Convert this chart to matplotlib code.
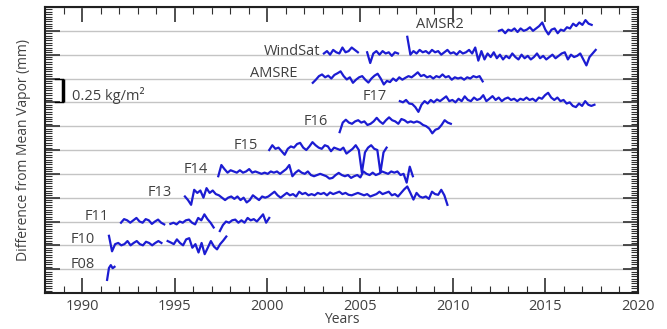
import numpy as np
import matplotlib.pyplot as plt
from matplotlib.ticker import MultipleLocator

plt.rcParams['font.family'] = ['Open Sans', 'DejaVu Sans']

# Satélites, del de arriba al de abajo (cada uno desplazado una unidad)
names = ['AMSR2', 'WindSat', 'AMSRE', 'F17', 'F16', 'F15', 'F14', 'F13', 'F11', 'F10', 'F08']
starts = [2012.5, 2003.05, 2002.45, 2007.15, 2003.9, 2000.1, 1997.35, 1995.55, 1992.1, 1991.45, 1991.35]
steps = [1/6, 1/6, 1/6, 1/6, 1/6, 1/6, 1/6, 1/6, 1/6, 1/6, 0.1]
nan = np.nan

# anomalias (1 unidad = 0.25 kg/m2)
amsr2 = [0.0, 0.05, -0.1, 0.05, 0.0, 0.1, -0.05, 0.1, 0.0, 0.05, 0.15, 0.0, 0.1, 0.2, 0.35, 0.05,
         -0.15, 0.05, 0.1, -0.1, 0.05, 0.0, 0.15, 0.1, 0.3, 0.2, 0.35, 0.25, 0.45, 0.3, 0.25]
windsat = [0.05, 0.15, 0.0, 0.2, 0.1, 0.05, 0.3, 0.1, 0.15, 0.3, 0.2, 0.1, nan, nan,
           0.1, -0.35, 0.05, 0.15, 0.0, 0.15, 0.05, 0.1, -0.05, 0.1, 0.05, nan, nan,
           0.75, 0.0, 0.15, 0.05, 0.2, 0.1, 0.15, 0.05, 0.2, 0.1, 0.15, 0.0, 0.1, 0.2, 0.05,
           0.1, 0.0, 0.15, 0.05, 0.1, 0.2, 0.05, 0.3, -0.25, 0.15, -0.2, 0.05, -0.1, 0.1,
           -0.15, 0.0, -0.2, -0.05, -0.15, 0.05, -0.1, -0.2, 0.0, -0.15, -0.05, -0.2, -0.1,
           0.05, -0.15, -0.05, -0.2, -0.1, 0.0, -0.15, -0.05, 0.05, 0.1, -0.2, 0.0, -0.1,
           -0.05, 0.05, -0.2, -0.45, -0.1, 0.05, 0.2]
amsre = [-0.18, -0.05, 0.1, 0.17, 0.05, 0.12, 0.0, 0.15, 0.22, 0.3, 0.1, -0.04, 0.05, -0.18,
         -0.05, 0.05, 0.1, -0.05, -0.17, 0.0, 0.12, 0.2, 0.0, -0.25, -0.1, -0.15, 0.0, -0.1,
         0.05, -0.05, 0.03, 0.1, 0.05, 0.15, 0.26, 0.1, 0.15, 0.05, 0.1, 0.0, 0.1, 0.05, 0.17,
         0.05, 0.1, -0.05, 0.05, 0.0, 0.04, -0.05, 0.05, 0.0, 0.1, 0.05, 0.1, -0.12]
f17 = [0.05, 0.0, 0.1, -0.05, -0.07, -0.2, -0.4, -0.1, 0.05, -0.05, 0.1, 0.0, 0.12, 0.05, 0.15,
       0.25, 0.05, 0.1, 0.0, 0.15, 0.05, 0.25, 0.1, 0.05, 0.2, 0.1, 0.15, 0.3, 0.05, 0.15, 0.26,
       0.1, 0.2, 0.05, 0.15, 0.2, 0.1, 0.15, 0.05, 0.15, 0.1, 0.2, 0.1, 0.15, 0.05, 0.2, 0.15,
       0.3, 0.4, 0.2, 0.1, 0.2, 0.05, 0.1, -0.05, 0.0, -0.15, -0.2, -0.05, -0.15, 0.05, -0.1,
       -0.15, -0.1]
f16 = [-0.25, 0.15, 0.27, 0.15, 0.1, 0.2, 0.25, 0.15, 0.2, 0.05, 0.1, 0.2, 0.35, 0.2, 0.1, 0.25,
       0.37, 0.25, 0.2, 0.1, 0.3, 0.25, 0.15, 0.2, 0.15, 0.2, 0.15, 0.05, 0.0, -0.1, -0.3, -0.15,
       -0.1, 0.05, 0.25, 0.15, 0.1]
f15 = [0.0, 0.2, 0.05, 0.1, -0.05, -0.2, 0.05, 0.15, 0.1, 0.25, 0.3, 0.1, 0.0, 0.15, 0.33, 0.2,
       0.1, 0.05, 0.2, 0.15, -0.05, 0.1, 0.05, 0.0, 0.1, -0.15, -0.05, 0.05, 0.2, 0.0, -0.95,
       -0.1, 0.1, 0.2, 0.05, 0.0, -0.95, -0.1, 0.1]
f14 = [-0.1, 0.37, 0.2, 0.05, 0.15, 0.1, 0.05, 0.15, 0.05, 0.1, 0.2, 0.05, 0.1, 0.05, 0.0, 0.05,
       0.0, 0.1, 0.05, 0.1, 0.0, 0.1, 0.2, 0.37, -0.1, 0.05, 0.15, 0.05, 0.0, 0.1, -0.05, -0.1,
       -0.05, 0.0, -0.05, -0.1, -0.2, -0.17, -0.05, 0.04, -0.05, -0.1, -0.05, -0.17, -0.1,
       -0.05, -0.15, 0.1, 0.0, -0.05, 0.05, -0.05, 0.0, 0.1, 0.05, 0.0, 0.1, 0.05, 0.1, -0.05,
       0.0, -0.37, 0.3, -0.1]
f13 = [0.05, -0.1, -0.3, 0.33, 0.2, 0.3, 0.0, 0.4, 0.2, 0.3, 0.15, 0.1, 0.0, -0.1, 0.0, 0.05,
       -0.05, 0.05, -0.1, 0.0, -0.2, -0.1, 0.1, 0.0, -0.1, 0.05, 0.0, 0.05, 0.15, 0.25, 0.1, 0.0,
       0.1, 0.2, 0.1, 0.15, 0.05, 0.25, 0.15, 0.2, 0.1, 0.15, 0.1, 0.2, 0.15, 0.2, 0.1, 0.22,
       0.15, 0.2, 0.25, 0.15, 0.2, 0.12, 0.1, 0.15, 0.2, 0.15, 0.1, 0.15, 0.05, 0.1, 0.15, 0.25,
       0.15, 0.2, 0.25, 0.1, 0.15, 0.05, 0.2, 0.35, 0.47, 0.2, -0.08, 0.2, 0.05, 0.0, 0.05,
       -0.05, 0.25, 0.15, 0.12, 0.33, 0.1, -0.3]
f11 = [-0.05, 0.1, 0.05, -0.05, 0.05, 0.15, 0.0, -0.05, 0.1, 0.05, -0.1, 0.0, 0.08, -0.05,
       -0.12, nan, -0.1, -0.05, -0.12, 0.0, -0.05, 0.05, 0.08, -0.05, -0.12, 0.15, 0.05, 0.3,
       0.1, -0.05, -0.25, nan, -0.4, -0.15, 0.0, -0.05, 0.05, 0.08, -0.05, 0.05, -0.05, 0.15,
       0.05, 0.1, 0.0, 0.15, 0.3, -0.05, 0.15]
f10 = [0.4, -0.25, 0.05, 0.1, 0.0, 0.05, 0.18, 0.0, 0.1, 0.18, 0.05, 0.0, 0.15, 0.1, 0.0, 0.1,
       0.18, 0.1, nan, 0.18, 0.12, 0.05, 0.25, 0.1, 0.0, 0.25, 0.3, -0.1, 0.05, -0.3, 0.1, -0.37,
       -0.1, 0.18, -0.05, -0.17, 0.05, 0.2, 0.37]
f08 = [-0.45, 0.05, 0.17, 0.04, 0.1]
series = [amsr2, windsat, amsre, f17, f16, f15, f14, f13, f11, f10, f08]

# posicion de las etiquetas (borde derecho y centro vertical del texto)
lab_x = [2010.6, 2002.85, 2001.65, 2006.45, 2003.25, 1999.5, 1996.8, 1994.85, 1991.45, 1990.7, 1990.7]
lab_dy = [0.25, 0.12, 0.2, 0.25, 0.2, 0.17, 0.17, 0.2, 0.2, 0.25, 0.2]

azul = '#1c1cd2'
gris = '#404040'

fig = plt.figure(figsize=(6.67, 3.29), dpi=100)
ax = fig.add_axes([0.0675, 0.1094, 0.889, 0.8693])

n = len(names)
for k in range(n):
    base = n - k
    v = np.array(series[k], dtype=float)
    t = starts[k] + np.arange(len(v))*steps[k]
    ax.plot(t, v + base, '-', color=azul, linewidth=1.6)
    ax.text(lab_x[k], base + lab_dy[k], names[k], ha='right', va='center',
            fontsize=10.5, color=gris)

# barra de escala
ax.plot([1988.97, 1988.97], [8, 9], '-', color='k', linewidth=2.5, solid_capstyle='butt')
ax.plot([1988.55, 1988.97], [9, 9], '-', color='k', linewidth=1)
ax.plot([1988.55, 1988.97], [8, 8], '-', color='k', linewidth=1)
ax.text(1989.45, 8.27, '0.25 kg/m²', fontsize=10.5, color=gris, va='center', ha='left')

ax.set_xlim(1988, 2020)
ax.set_ylim(0, 12)
ax.xaxis.set_major_locator(MultipleLocator(5))
ax.xaxis.set_minor_locator(MultipleLocator(1))
ax.yaxis.set_major_locator(MultipleLocator(1))
ax.yaxis.set_minor_locator(MultipleLocator(0.1))
ax.set_yticklabels([])
ax.tick_params(which='both', direction='in', top=True, right=True, color='#303030')
ax.tick_params(which='major', length=11, width=1.2, labelsize=10.5, labelcolor=gris, pad=4)
ax.tick_params(which='minor', length=5, width=0.8)
ax.grid(axis='y', which='major', color='#c4c4c4', linewidth=1)
ax.set_axisbelow(True)
for s in ax.spines.values():
    s.set_linewidth(1.5)
    s.set_color('#202020')

ax.set_xlabel('Years', fontsize=10, color=gris, labelpad=-1)
ax.set_ylabel('Difference from Mean Vapor (mm)', fontsize=10, color=gris, labelpad=6)

fig.savefig('out.png', dpi=100)
